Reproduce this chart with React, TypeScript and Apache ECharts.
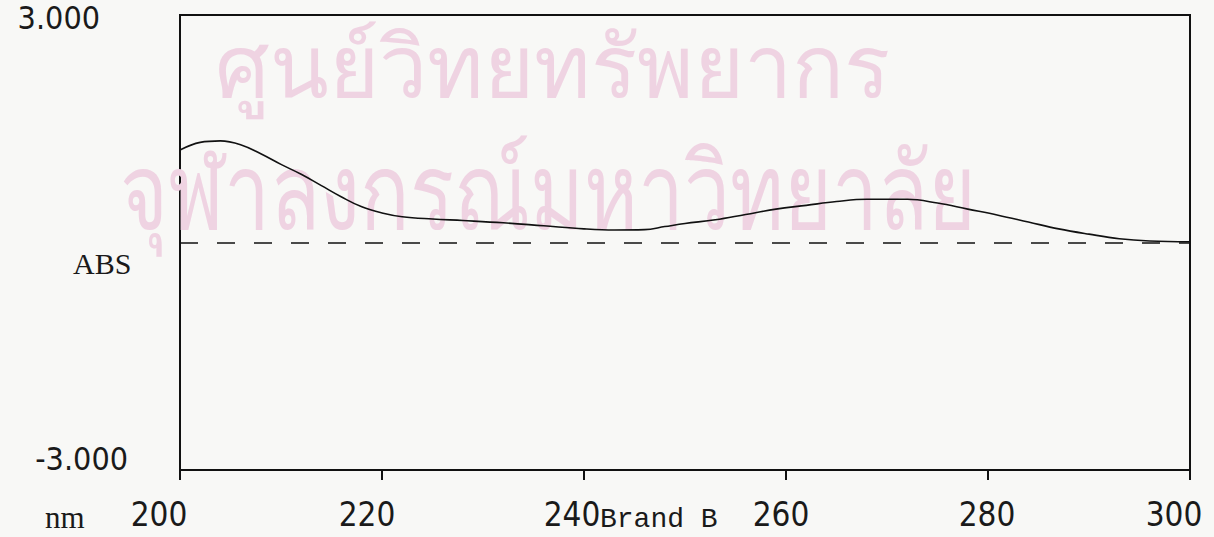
import React, { useEffect, useRef } from "react";
import * as echarts from "echarts";

const wavelengths = [200, 202, 204, 206, 208, 210, 212, 214, 216, 218, 220, 222, 225, 228, 232, 236, 240, 243, 246, 248, 250, 253, 256, 259, 262, 265, 268, 272, 275, 278, 281, 284, 287, 290, 293, 296, 300];
const absorbance = [1.22, 1.32, 1.34, 1.29, 1.17, 1.03, 0.9, 0.75, 0.6, 0.47, 0.39, 0.34, 0.31, 0.29, 0.26, 0.22, 0.18, 0.165, 0.17, 0.21, 0.25, 0.3, 0.37, 0.44, 0.49, 0.54, 0.57, 0.57, 0.52, 0.44, 0.36, 0.27, 0.18, 0.11, 0.05, 0.02, 0.01];
const xTicks = [200, 220, 240, 260, 280, 300];
const xLabelShift = [21, 15, 12, 5, 1, 16];
const yLabels = ["-3.000", "3.000"];
const watermark = ["ศูนย์วิทยทรัพยากร", "จุฬาลงกรณ์มหาวิทยาลัย"];

const digitFont = "'Liberation Sans Narrow', 'DejaVu Sans Condensed', 'Arial Narrow', sans-serif";

export default function App() {
  const ref = useRef<HTMLDivElement>(null);
  useEffect(() => {
    if (!ref.current) return;
    const chart = echarts.init(ref.current, undefined, { renderer: "svg" });
    const xRich: Record<string, any> = {};
    xTicks.forEach((t, i) => {
      xRich["a" + t] = {
        fontSize: 33,
        fontFamily: digitFont,
        color: "#1a1a1a",
        padding: [0, xLabelShift[i] * 2, 0, 0],
      };
    });
    chart.setOption({
      animation: false,
      backgroundColor: "#f8f8f6",
      graphic: [
        {
          type: "text",
          x: 215,
          y: 20,
          z: 0,
          style: { text: watermark[0], fontSize: 86, fill: "#efd3e2", fontFamily: "'Noto Sans', 'DejaVu Sans', sans-serif" },
        },
        {
          type: "text",
          x: 120,
          y: 134,
          scaleY: 1.3,
          z: 0,
          style: { text: watermark[1], fontSize: 82, fill: "#efd3e2", fontFamily: "'Noto Sans', 'DejaVu Sans', sans-serif" },
        },
        {
          type: "text",
          x: 73,
          y: 263,
          style: { text: "ABS", fontSize: 30, fill: "#1a1a1a", fontFamily: "'Liberation Serif', 'DejaVu Serif', serif", verticalAlign: "middle" },
        },
        {
          type: "text",
          x: 45,
          y: 517,
          style: { text: "nm", fontSize: 31, fill: "#1a1a1a", fontFamily: "'Liberation Serif', 'DejaVu Serif', serif", verticalAlign: "middle" },
        },
        {
          type: "text",
          x: 600,
          y: 519,
          style: { text: "Brand B", fontSize: 28, fill: "#1a1a1a", fontFamily: "'Liberation Mono', 'DejaVu Sans Mono', monospace", verticalAlign: "middle" },
        },
      ],
      grid: {
        left: 180,
        right: 24,
        top: 15,
        bottom: 67,
        show: true,
        borderColor: "#111",
        borderWidth: 2,
        backgroundColor: "transparent",
        containLabel: false,
        outerBoundsMode: "none",
      },
      xAxis: {
        type: "value",
        min: 200,
        max: 300,
        interval: 20,
        axisLine: { show: false, onZero: false },
        axisTick: { show: true, length: 10, lineStyle: { color: "#111", width: 2 } },
        splitLine: { show: false },
        axisLabel: {
          margin: 28,
          formatter: (v: number) => `{a${v}|${v}}`,
          rich: xRich,
        },
      },
      yAxis: {
        type: "value",
        min: -3,
        max: 3,
        interval: 3,
        axisLine: { show: false, onZero: false },
        axisTick: { show: false },
        splitLine: { show: false },
        axisLabel: {
          margin: 52,
          formatter: (v: number) => (v === 3 ? `{top|${yLabels[1]}}` : v === -3 ? `{bot|${yLabels[0]}}` : ""),
          rich: {
            top: { fontSize: 32, fontFamily: digitFont, color: "#1a1a1a", padding: [6, 28, 0, 0] },
            bot: { fontSize: 32, fontFamily: digitFont, color: "#1a1a1a", padding: [0, 0, 22, 0] },
          },
        },
      },
      series: [
        {
          type: "line",
          data: wavelengths.map((w, i) => [w, absorbance[i]]),
          smooth: 0.4,
          symbol: "none",
          lineStyle: { color: "#111", width: 1.6 },
          markLine: {
            silent: true,
            symbol: "none",
            label: { show: false },
            lineStyle: { color: "#111", width: 1.6, type: [18, 19] },
            data: [{ yAxis: 0 }],
          },
        },
      ],
    });
    return () => chart.dispose();
  }, []);
  return <div ref={ref} style={{ position: "absolute", left: 0, top: 0, width: 1214, height: 537 }} />;
}
